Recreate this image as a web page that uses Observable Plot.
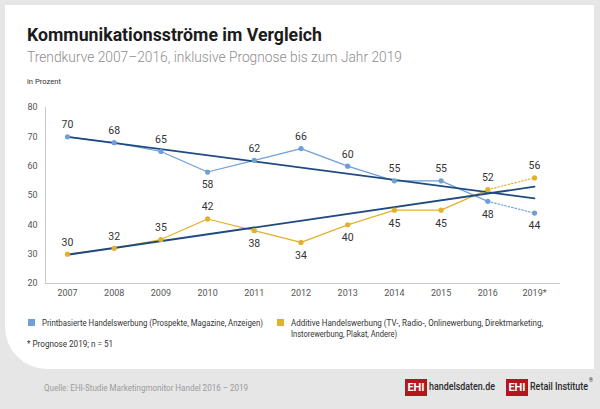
<!DOCTYPE html>
<html>
<head>
<meta charset="utf-8">
<script src="https://cdn.jsdelivr.net/npm/d3@7"></script>
<script src="https://cdn.jsdelivr.net/npm/@observablehq/plot@0.6"></script>
<style>
  html, body { margin: 0; padding: 0; }
  body { width: 600px; height: 409px; background: #e6e6e7; position: relative; overflow: hidden;
         font-family: Roboto, "Noto Sans", sans-serif; }
  .abs { position: absolute; white-space: nowrap; transform-origin: 0 50%; }
  #card { position: absolute; left: 5px; top: 5px; width: 589px; height: 364px; background: #fff;
          border-bottom-left-radius: 42px; }
  .sq { position: absolute; width: 7px; height: 7px; }
  .ehi { position: absolute; background: #b5161e; color: #fff; font-weight: 700; font-size: 11px;
         display: flex; align-items: center; justify-content: center; }
</style>
</head>
<body>
<div id="card"></div>
<div class="abs fit" data-w="295" style="left:27px;top:24px;font-size:18px;font-weight:700;color:#1b1b1b;line-height:22px">Kommunikationsströme im Vergleich</div>
<div class="abs fit" data-w="375" style="left:27px;top:48px;font-size:15px;font-weight:300;color:#8e8e8e;line-height:18px">Trendkurve 2007–2016, inklusive Prognose bis zum Jahr 2019</div>
<div class="abs fit" data-w="34" style="left:27px;top:77px;font-size:8px;color:#333;line-height:10px">in Prozent</div>
<div id="chart" style="position:absolute;left:0;top:95px"></div>

<div class="sq" style="left:28px;top:319px;background:#6f9fd8"></div>
<div class="abs fit" data-w="221" style="left:42px;top:317px;font-size:9px;color:#333;line-height:12px">Printbasierte Handelswerbung (Prospekte, Magazine, Anzeigen)</div>
<div class="sq" style="left:277px;top:319px;background:#e1b12c"></div>
<div class="abs fit" data-w="252" style="left:291px;top:317px;font-size:9px;color:#333;line-height:12px">Additive Handelswerbung (TV-, Radio-, Onlinewerbung, Direktmarketing,</div>
<div class="abs fit" data-w="106" style="left:291px;top:328px;font-size:9px;color:#333;line-height:12px">Instorewerbung, Plakat, Andere)</div>
<div class="abs fit" data-w="86" style="left:27px;top:338px;font-size:9px;color:#333;line-height:12px">* Prognose 2019; n = 51</div>

<div class="abs fit" data-w="204" style="left:44px;top:382px;font-size:9px;color:#9a9a9a;line-height:12px">Quelle: EHI-Studie Marketingmonitor Handel 2016 – 2019</div>
<div class="ehi" style="left:405px;top:379px;width:22px;height:17px">EHI</div>
<div class="abs fit" data-w="66" style="left:429px;top:380px;font-size:11px;font-weight:500;color:#2a2a2a;line-height:14px">handelsdaten.de</div>
<div class="ehi" style="left:506px;top:379px;width:22px;height:17px">EHI</div>
<div class="abs fit" data-w="58" style="left:530px;top:380px;font-size:11px;font-weight:500;color:#2a2a2a;line-height:14px">Retail Institute</div>
<div class="abs" style="left:589px;top:377px;font-size:5px;color:#2a2a2a">®</div>

<script>
// ---- data ----
const years = ["2007", "2008", "2009", "2010", "2011", "2012", "2013", "2014", "2015", "2016", "2019*"];
const printValues = [70, 68, 65, 58, 62, 66, 60, 55, 55, 48, 44];
const additiveValues = [30, 32, 35, 42, 38, 34, 40, 45, 45, 52, 56];
const printLabelPos = ["above", "above", "above", "below", "above", "above", "above", "above", "above", "below", "below"];
const additiveLabelPos = ["above", "above", "above", "above", "below", "below", "below", "below", "below", "above", "above"];
const trendYears = ["2007", "2019*"];
const printTrend = [70, 49];
const additiveTrend = [29.8, 53];
const yTicks = [20, 30, 40, 50, 60, 70, 80];
const forecastFrom = "2016";

// ---- build tables ----
const idx = y => years.indexOf(y);
const rows = [];
years.forEach((yr, i) => {
  rows.push({ i, year: yr, value: printValues[i], series: "print", pos: printLabelPos[i] });
  rows.push({ i, year: yr, value: additiveValues[i], series: "additive", pos: additiveLabelPos[i] });
});
const fi = idx(forecastFrom);
const actual = rows.filter(d => d.i <= fi);
const forecast = rows.filter(d => d.i >= fi);
const trend = [];
trendYears.forEach((yr, k) => {
  trend.push({ i: idx(yr), value: printTrend[k], series: "print" });
  trend.push({ i: idx(yr), value: additiveTrend[k], series: "additive" });
});
const colors = { print: "#6f9fd8", additive: "#e1b12c" };
const navy = "#1f4a80";

const chart = Plot.plot({
  width: 600,
  height: 213,
  marginLeft: 45,
  marginRight: 40,
  marginTop: 12,
  marginBottom: 25,
  style: { fontFamily: "Roboto, sans-serif", background: "transparent", overflow: "visible" },
  x: { type: "linear", domain: [0, years.length - 1], range: [67, 534] },
  y: { domain: [yTicks[0], yTicks[yTicks.length - 1]] },
  marks: [
    Plot.frame({ anchor: "left", stroke: "#c8c8c8" }),
    Plot.ruleY([yTicks[0]], { stroke: "#c8c8c8" }),
    Plot.axisY({ ticks: yTicks, tickSize: 0, tickPadding: 8, fontSize: 9, fill: "#555", label: null }),
    Plot.axisX({ ticks: years.map((_, i) => i), tickFormat: i => years[i], tickSize: 0, tickPadding: 6,
                 fontSize: 9, fill: "#555", label: null }),
    Plot.line(actual, { x: "i", y: "value", z: "series", stroke: d => colors[d.series], strokeWidth: 1.2 }),
    Plot.line(forecast, { x: "i", y: "value", z: "series", stroke: d => colors[d.series], strokeWidth: 1.2,
                          strokeDasharray: "1.5,2" }),
    Plot.line(trend, { x: "i", y: "value", z: "series", stroke: navy, strokeWidth: 1.8 }),
    Plot.dot(rows, { x: "i", y: "value", r: 2.6, fill: d => colors[d.series], stroke: "none" }),
    Plot.text(rows.filter(d => d.pos === "above"), { x: "i", y: "value", text: d => String(d.value),
              dy: -12, fontSize: 10.5, fill: "#333" }),
    Plot.text(rows.filter(d => d.pos === "below"), { x: "i", y: "value", text: d => String(d.value),
              dy: 13, fontSize: 10.5, fill: "#333" })
  ]
});
document.getElementById("chart").appendChild(chart);

// fit text widths to the reference's condensed typeface
document.querySelectorAll(".fit").forEach(el => {
  const w = el.getBoundingClientRect().width;
  const target = +el.dataset.w;
  if (w > 0 && target) el.style.transform = `scaleX(${target / w})`;
});
</script>
</body>
</html>
